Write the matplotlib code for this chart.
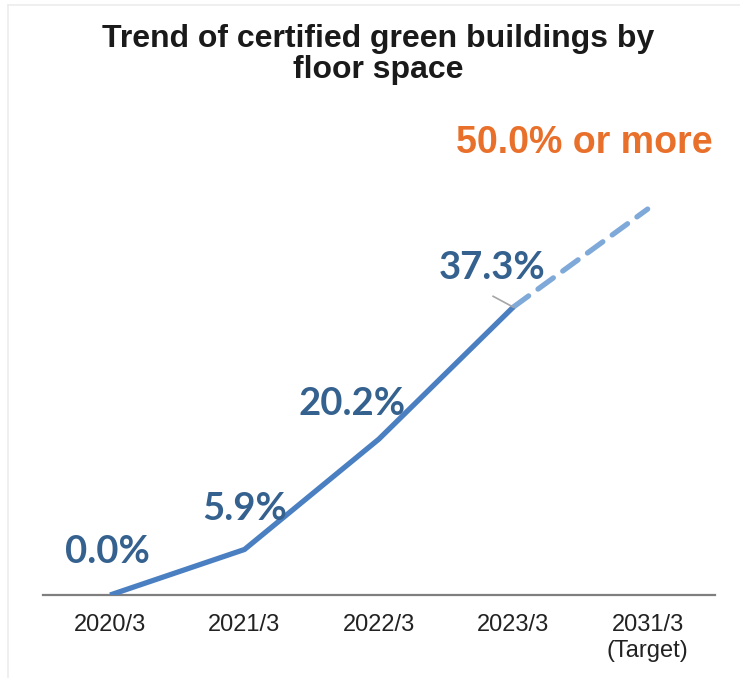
import matplotlib
matplotlib.use("Agg")
from matplotlib import pyplot as plt
from matplotlib.lines import Line2D

# data
categories = ["2020/3", "2021/3", "2022/3", "2023/3", "2031/3\n(Target)"]
actual = [0.0, 5.9, 20.2, 37.3]
target = 50.0

solid_blue = "#4a7fc1"
dash_blue = "#7ea9d8"
label_blue = "#35618f"
orange = "#e8702a"


def main():
    fig = plt.figure(figsize=(7.4, 6.78), dpi=100)
    ax = fig.add_axes([0.058, 0.1224, 0.908, 0.74])

    xs = list(range(len(actual)))
    ax.plot(xs, actual, color=solid_blue, lw=3.8, solid_capstyle="butt", zorder=3)
    ax.plot([xs[-1], len(categories) - 1], [actual[-1], target], color=dash_blue,
            lw=3.8, dashes=(3.6, 2.2), dash_capstyle="round", zorder=2)

    # value labels
    offsets = [(-0.02, 5.6), (0.0, 5.3), (-0.2, 4.6), (-0.16, 5.1)]
    for x, v, (dx, dy) in zip(xs, actual, offsets):
        ax.text(x + dx, v + dy, "%.1f%%" % v, ha="center", va="center",
                fontsize=27.5, fontweight="bold", color=label_blue, family="Lato")
    # leader line for last label
    ax.plot([xs[-1] - 0.15, xs[-1]], [38.7, 37.3], color="#a6a6a6", lw=1.2, zorder=4)

    ax.text(len(categories) - 1 - 0.47, 58.6, "%.1f%% or more" % target, ha="center",
            va="center", fontsize=27, fontweight="bold", color=orange,
            family="Liberation Sans")

    ax.set_xlim(-0.5, 4.5)
    ax.set_ylim(0, 65)
    ax.set_xticks(range(len(categories)))
    ax.set_xticklabels(categories, fontsize=17, family="Liberation Sans", color="#222222",
                       linespacing=1.2)
    ax.tick_params(axis="x", length=0, pad=14)
    ax.set_yticks([])
    for s in ["top", "right", "left"]:
        ax.spines[s].set_visible(False)
    ax.spines["bottom"].set_color("#7f7f7f")
    ax.spines["bottom"].set_linewidth(1.6)

    fig.text(0.511, 0.9196, "Trend of certified green buildings by\nfloor space",
             ha="center", va="center", fontsize=23, fontweight="bold",
             family="Liberation Sans", color="#1a1a1a", linespacing=1.05)

    # faint frame
    fig.add_artist(Line2D([8 / 740, 1], [1 - 5 / 678, 1 - 5 / 678], color="#ececec", lw=1.2))
    fig.add_artist(Line2D([8 / 740, 8 / 740], [0, 1 - 5 / 678], color="#ececec", lw=1.2))

    fig.savefig("out.png", dpi=100)


if __name__ == '__main__':
    main()
